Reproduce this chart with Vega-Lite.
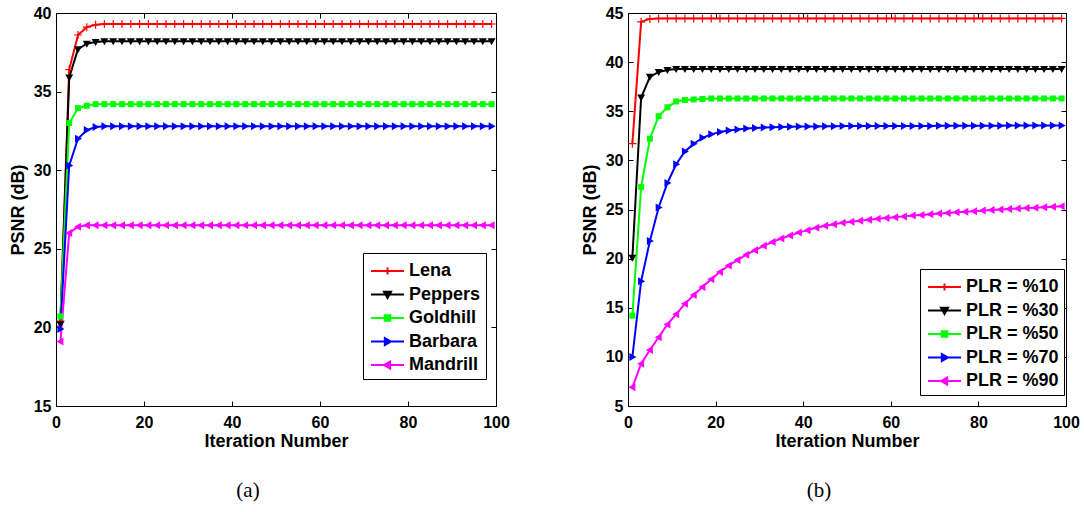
{
  "$schema": "https://vega.github.io/schema/vega-lite/v6.json",
  "background": "white",
  "padding": {"left": 8, "top": 4, "right": 5, "bottom": 0},
  "spacing": 70,
  "config": {
    "view": {"stroke": "black", "strokeWidth": 1},
    "axis": {"domainColor": "black", "tickColor": "black", "labelColor": "black", "titleColor": "black", "labelFont": "Liberation Sans", "titleFont": "Liberation Sans", "labelFontSize": 16, "labelFontWeight": "bold", "titleFontSize": 18, "titleFontWeight": "bold", "grid": false, "tickSize": -5, "labelFlush": false, "labelOverlap": false, "domainWidth": 1, "tickWidth": 1},
    "axisX": {"labelPadding": 13, "titlePadding": 2},
    "axisY": {"labelPadding": 10, "titlePadding": 6},
    "point": {"filled": true, "size": 64, "opacity": 1},
    "legend": {"orient": "none", "title": null, "strokeColor": "black", "fillColor": "white", "padding": 5, "labelFont": "Liberation Sans", "labelFontSize": 18, "labelFontWeight": "bold", "labelColor": "black", "symbolSize": 576, "symbolStrokeWidth": 2, "labelOffset": 15, "rowPadding": 1.5, "cornerRadius": 0}
  },
  "resolve": {"scale": {"x": "independent", "y": "independent", "color": "independent"}, "legend": {"color": "independent"}},
  "datasets": {
    "a": [
      {"it": 1, "Lena": 20.4, "Peppers": 20.2, "Goldhill": 20.7, "Barbara": 19.9, "Mandrill": 19.1},
      {"it": 3, "Lena": 36.4, "Peppers": 35.9, "Goldhill": 33.0, "Barbara": 30.3, "Mandrill": 26.0},
      {"it": 5, "Lena": 38.6, "Peppers": 37.7, "Goldhill": 33.95, "Barbara": 32.0, "Mandrill": 26.4},
      {"it": 7, "Lena": 39.1, "Peppers": 38.05, "Goldhill": 34.1, "Barbara": 32.55, "Mandrill": 26.5},
      {"it": 9, "Lena": 39.25, "Peppers": 38.15, "Goldhill": 34.2, "Barbara": 32.75, "Mandrill": 26.5},
      {"it": 11, "Lena": 39.3, "Peppers": 38.2, "Goldhill": 34.2, "Barbara": 32.8, "Mandrill": 26.5},
      {"it": 13, "Lena": 39.3, "Peppers": 38.2, "Goldhill": 34.2, "Barbara": 32.8, "Mandrill": 26.5},
      {"it": 15, "Lena": 39.3, "Peppers": 38.2, "Goldhill": 34.2, "Barbara": 32.8, "Mandrill": 26.5},
      {"it": 17, "Lena": 39.3, "Peppers": 38.2, "Goldhill": 34.2, "Barbara": 32.8, "Mandrill": 26.5},
      {"it": 19, "Lena": 39.3, "Peppers": 38.2, "Goldhill": 34.2, "Barbara": 32.8, "Mandrill": 26.5},
      {"it": 21, "Lena": 39.3, "Peppers": 38.2, "Goldhill": 34.2, "Barbara": 32.8, "Mandrill": 26.5},
      {"it": 23, "Lena": 39.3, "Peppers": 38.2, "Goldhill": 34.2, "Barbara": 32.8, "Mandrill": 26.5},
      {"it": 25, "Lena": 39.3, "Peppers": 38.2, "Goldhill": 34.2, "Barbara": 32.8, "Mandrill": 26.5},
      {"it": 27, "Lena": 39.3, "Peppers": 38.2, "Goldhill": 34.2, "Barbara": 32.8, "Mandrill": 26.5},
      {"it": 29, "Lena": 39.3, "Peppers": 38.2, "Goldhill": 34.2, "Barbara": 32.8, "Mandrill": 26.5},
      {"it": 31, "Lena": 39.3, "Peppers": 38.2, "Goldhill": 34.2, "Barbara": 32.8, "Mandrill": 26.5},
      {"it": 33, "Lena": 39.3, "Peppers": 38.2, "Goldhill": 34.2, "Barbara": 32.8, "Mandrill": 26.5},
      {"it": 35, "Lena": 39.3, "Peppers": 38.2, "Goldhill": 34.2, "Barbara": 32.8, "Mandrill": 26.5},
      {"it": 37, "Lena": 39.3, "Peppers": 38.2, "Goldhill": 34.2, "Barbara": 32.8, "Mandrill": 26.5},
      {"it": 39, "Lena": 39.3, "Peppers": 38.2, "Goldhill": 34.2, "Barbara": 32.8, "Mandrill": 26.5},
      {"it": 41, "Lena": 39.3, "Peppers": 38.2, "Goldhill": 34.2, "Barbara": 32.8, "Mandrill": 26.5},
      {"it": 43, "Lena": 39.3, "Peppers": 38.2, "Goldhill": 34.2, "Barbara": 32.8, "Mandrill": 26.5},
      {"it": 45, "Lena": 39.3, "Peppers": 38.2, "Goldhill": 34.2, "Barbara": 32.8, "Mandrill": 26.5},
      {"it": 47, "Lena": 39.3, "Peppers": 38.2, "Goldhill": 34.2, "Barbara": 32.8, "Mandrill": 26.5},
      {"it": 49, "Lena": 39.3, "Peppers": 38.2, "Goldhill": 34.2, "Barbara": 32.8, "Mandrill": 26.5},
      {"it": 51, "Lena": 39.3, "Peppers": 38.2, "Goldhill": 34.2, "Barbara": 32.8, "Mandrill": 26.5},
      {"it": 53, "Lena": 39.3, "Peppers": 38.2, "Goldhill": 34.2, "Barbara": 32.8, "Mandrill": 26.5},
      {"it": 55, "Lena": 39.3, "Peppers": 38.2, "Goldhill": 34.2, "Barbara": 32.8, "Mandrill": 26.5},
      {"it": 57, "Lena": 39.3, "Peppers": 38.2, "Goldhill": 34.2, "Barbara": 32.8, "Mandrill": 26.5},
      {"it": 59, "Lena": 39.3, "Peppers": 38.2, "Goldhill": 34.2, "Barbara": 32.8, "Mandrill": 26.5},
      {"it": 61, "Lena": 39.3, "Peppers": 38.2, "Goldhill": 34.2, "Barbara": 32.8, "Mandrill": 26.5},
      {"it": 63, "Lena": 39.3, "Peppers": 38.2, "Goldhill": 34.2, "Barbara": 32.8, "Mandrill": 26.5},
      {"it": 65, "Lena": 39.3, "Peppers": 38.2, "Goldhill": 34.2, "Barbara": 32.8, "Mandrill": 26.5},
      {"it": 67, "Lena": 39.3, "Peppers": 38.2, "Goldhill": 34.2, "Barbara": 32.8, "Mandrill": 26.5},
      {"it": 69, "Lena": 39.3, "Peppers": 38.2, "Goldhill": 34.2, "Barbara": 32.8, "Mandrill": 26.5},
      {"it": 71, "Lena": 39.3, "Peppers": 38.2, "Goldhill": 34.2, "Barbara": 32.8, "Mandrill": 26.5},
      {"it": 73, "Lena": 39.3, "Peppers": 38.2, "Goldhill": 34.2, "Barbara": 32.8, "Mandrill": 26.5},
      {"it": 75, "Lena": 39.3, "Peppers": 38.2, "Goldhill": 34.2, "Barbara": 32.8, "Mandrill": 26.5},
      {"it": 77, "Lena": 39.3, "Peppers": 38.2, "Goldhill": 34.2, "Barbara": 32.8, "Mandrill": 26.5},
      {"it": 79, "Lena": 39.3, "Peppers": 38.2, "Goldhill": 34.2, "Barbara": 32.8, "Mandrill": 26.5},
      {"it": 81, "Lena": 39.3, "Peppers": 38.2, "Goldhill": 34.2, "Barbara": 32.8, "Mandrill": 26.5},
      {"it": 83, "Lena": 39.3, "Peppers": 38.2, "Goldhill": 34.2, "Barbara": 32.8, "Mandrill": 26.5},
      {"it": 85, "Lena": 39.3, "Peppers": 38.2, "Goldhill": 34.2, "Barbara": 32.8, "Mandrill": 26.5},
      {"it": 87, "Lena": 39.3, "Peppers": 38.2, "Goldhill": 34.2, "Barbara": 32.8, "Mandrill": 26.5},
      {"it": 89, "Lena": 39.3, "Peppers": 38.2, "Goldhill": 34.2, "Barbara": 32.8, "Mandrill": 26.5},
      {"it": 91, "Lena": 39.3, "Peppers": 38.2, "Goldhill": 34.2, "Barbara": 32.8, "Mandrill": 26.5},
      {"it": 93, "Lena": 39.3, "Peppers": 38.2, "Goldhill": 34.2, "Barbara": 32.8, "Mandrill": 26.5},
      {"it": 95, "Lena": 39.3, "Peppers": 38.2, "Goldhill": 34.2, "Barbara": 32.8, "Mandrill": 26.5},
      {"it": 97, "Lena": 39.3, "Peppers": 38.2, "Goldhill": 34.2, "Barbara": 32.8, "Mandrill": 26.5},
      {"it": 99, "Lena": 39.3, "Peppers": 38.2, "Goldhill": 34.2, "Barbara": 32.8, "Mandrill": 26.5}
    ],
    "b": [
      {"it": 1, "PLR = %10": 31.7, "PLR = %30": 20.1, "PLR = %50": 14.2, "PLR = %70": 10.0, "PLR = %90": 6.9},
      {"it": 3, "PLR = %10": 44.1, "PLR = %30": 36.4, "PLR = %50": 27.3, "PLR = %70": 17.7, "PLR = %90": 9.3},
      {"it": 5, "PLR = %10": 44.4, "PLR = %30": 38.5, "PLR = %50": 32.2, "PLR = %70": 21.8, "PLR = %90": 10.7},
      {"it": 7, "PLR = %10": 44.45, "PLR = %30": 39.0, "PLR = %50": 34.5, "PLR = %70": 25.2, "PLR = %90": 12.0},
      {"it": 9, "PLR = %10": 44.45, "PLR = %30": 39.2, "PLR = %50": 35.4, "PLR = %70": 27.7, "PLR = %90": 13.3},
      {"it": 11, "PLR = %10": 44.45, "PLR = %30": 39.3, "PLR = %50": 36.0, "PLR = %70": 29.6, "PLR = %90": 14.35},
      {"it": 13, "PLR = %10": 44.45, "PLR = %30": 39.3, "PLR = %50": 36.15, "PLR = %70": 30.9, "PLR = %90": 15.4},
      {"it": 15, "PLR = %10": 44.45, "PLR = %30": 39.3, "PLR = %50": 36.2, "PLR = %70": 31.7, "PLR = %90": 16.3},
      {"it": 17, "PLR = %10": 44.45, "PLR = %30": 39.3, "PLR = %50": 36.25, "PLR = %70": 32.3, "PLR = %90": 17.1},
      {"it": 19, "PLR = %10": 44.45, "PLR = %30": 39.3, "PLR = %50": 36.3, "PLR = %70": 32.65, "PLR = %90": 17.9},
      {"it": 21, "PLR = %10": 44.45, "PLR = %30": 39.3, "PLR = %50": 36.3, "PLR = %70": 32.9, "PLR = %90": 18.65},
      {"it": 23, "PLR = %10": 44.45, "PLR = %30": 39.3, "PLR = %50": 36.3, "PLR = %70": 33.05, "PLR = %90": 19.3},
      {"it": 25, "PLR = %10": 44.45, "PLR = %30": 39.3, "PLR = %50": 36.3, "PLR = %70": 33.15, "PLR = %90": 19.85},
      {"it": 27, "PLR = %10": 44.45, "PLR = %30": 39.3, "PLR = %50": 36.3, "PLR = %70": 33.25, "PLR = %90": 20.4},
      {"it": 29, "PLR = %10": 44.45, "PLR = %30": 39.3, "PLR = %50": 36.3, "PLR = %70": 33.3, "PLR = %90": 20.85},
      {"it": 31, "PLR = %10": 44.45, "PLR = %30": 39.3, "PLR = %50": 36.3, "PLR = %70": 33.35, "PLR = %90": 21.3},
      {"it": 33, "PLR = %10": 44.45, "PLR = %30": 39.3, "PLR = %50": 36.3, "PLR = %70": 33.38, "PLR = %90": 21.7},
      {"it": 35, "PLR = %10": 44.45, "PLR = %30": 39.3, "PLR = %50": 36.3, "PLR = %70": 33.4, "PLR = %90": 22.05},
      {"it": 37, "PLR = %10": 44.45, "PLR = %30": 39.3, "PLR = %50": 36.3, "PLR = %70": 33.42, "PLR = %90": 22.35},
      {"it": 39, "PLR = %10": 44.45, "PLR = %30": 39.3, "PLR = %50": 36.3, "PLR = %70": 33.44, "PLR = %90": 22.65},
      {"it": 41, "PLR = %10": 44.45, "PLR = %30": 39.3, "PLR = %50": 36.3, "PLR = %70": 33.45, "PLR = %90": 22.9},
      {"it": 43, "PLR = %10": 44.45, "PLR = %30": 39.3, "PLR = %50": 36.3, "PLR = %70": 33.46, "PLR = %90": 23.15},
      {"it": 45, "PLR = %10": 44.45, "PLR = %30": 39.3, "PLR = %50": 36.3, "PLR = %70": 33.47, "PLR = %90": 23.35},
      {"it": 47, "PLR = %10": 44.45, "PLR = %30": 39.3, "PLR = %50": 36.3, "PLR = %70": 33.48, "PLR = %90": 23.5},
      {"it": 49, "PLR = %10": 44.45, "PLR = %30": 39.3, "PLR = %50": 36.3, "PLR = %70": 33.49, "PLR = %90": 23.65},
      {"it": 51, "PLR = %10": 44.45, "PLR = %30": 39.3, "PLR = %50": 36.3, "PLR = %70": 33.5, "PLR = %90": 23.75},
      {"it": 53, "PLR = %10": 44.45, "PLR = %30": 39.3, "PLR = %50": 36.3, "PLR = %70": 33.5, "PLR = %90": 23.85},
      {"it": 55, "PLR = %10": 44.45, "PLR = %30": 39.3, "PLR = %50": 36.3, "PLR = %70": 33.5, "PLR = %90": 23.95},
      {"it": 57, "PLR = %10": 44.45, "PLR = %30": 39.3, "PLR = %50": 36.3, "PLR = %70": 33.5, "PLR = %90": 24.05},
      {"it": 59, "PLR = %10": 44.45, "PLR = %30": 39.3, "PLR = %50": 36.3, "PLR = %70": 33.5, "PLR = %90": 24.14},
      {"it": 61, "PLR = %10": 44.45, "PLR = %30": 39.3, "PLR = %50": 36.3, "PLR = %70": 33.5, "PLR = %90": 24.22},
      {"it": 63, "PLR = %10": 44.45, "PLR = %30": 39.3, "PLR = %50": 36.3, "PLR = %70": 33.5, "PLR = %90": 24.3},
      {"it": 65, "PLR = %10": 44.45, "PLR = %30": 39.3, "PLR = %50": 36.3, "PLR = %70": 33.5, "PLR = %90": 24.38},
      {"it": 67, "PLR = %10": 44.45, "PLR = %30": 39.3, "PLR = %50": 36.3, "PLR = %70": 33.5, "PLR = %90": 24.45},
      {"it": 69, "PLR = %10": 44.45, "PLR = %30": 39.3, "PLR = %50": 36.3, "PLR = %70": 33.5, "PLR = %90": 24.52},
      {"it": 71, "PLR = %10": 44.45, "PLR = %30": 39.3, "PLR = %50": 36.3, "PLR = %70": 33.52, "PLR = %90": 24.59},
      {"it": 73, "PLR = %10": 44.45, "PLR = %30": 39.3, "PLR = %50": 36.3, "PLR = %70": 33.52, "PLR = %90": 24.65},
      {"it": 75, "PLR = %10": 44.45, "PLR = %30": 39.3, "PLR = %50": 36.3, "PLR = %70": 33.52, "PLR = %90": 24.71},
      {"it": 77, "PLR = %10": 44.45, "PLR = %30": 39.3, "PLR = %50": 36.3, "PLR = %70": 33.52, "PLR = %90": 24.77},
      {"it": 79, "PLR = %10": 44.45, "PLR = %30": 39.3, "PLR = %50": 36.3, "PLR = %70": 33.52, "PLR = %90": 24.83},
      {"it": 81, "PLR = %10": 44.45, "PLR = %30": 39.3, "PLR = %50": 36.3, "PLR = %70": 33.52, "PLR = %90": 24.89},
      {"it": 83, "PLR = %10": 44.45, "PLR = %30": 39.3, "PLR = %50": 36.3, "PLR = %70": 33.52, "PLR = %90": 24.94},
      {"it": 85, "PLR = %10": 44.45, "PLR = %30": 39.3, "PLR = %50": 36.3, "PLR = %70": 33.52, "PLR = %90": 24.99},
      {"it": 87, "PLR = %10": 44.45, "PLR = %30": 39.3, "PLR = %50": 36.3, "PLR = %70": 33.55, "PLR = %90": 25.04},
      {"it": 89, "PLR = %10": 44.45, "PLR = %30": 39.3, "PLR = %50": 36.3, "PLR = %70": 33.55, "PLR = %90": 25.09},
      {"it": 91, "PLR = %10": 44.45, "PLR = %30": 39.3, "PLR = %50": 36.3, "PLR = %70": 33.55, "PLR = %90": 25.14},
      {"it": 93, "PLR = %10": 44.45, "PLR = %30": 39.3, "PLR = %50": 36.3, "PLR = %70": 33.55, "PLR = %90": 25.19},
      {"it": 95, "PLR = %10": 44.45, "PLR = %30": 39.3, "PLR = %50": 36.3, "PLR = %70": 33.55, "PLR = %90": 25.24},
      {"it": 97, "PLR = %10": 44.45, "PLR = %30": 39.3, "PLR = %50": 36.3, "PLR = %70": 33.55, "PLR = %90": 25.29},
      {"it": 99, "PLR = %10": 44.45, "PLR = %30": 39.3, "PLR = %50": 36.3, "PLR = %70": 33.55, "PLR = %90": 25.34}
    ]
  },
  "hconcat": [
    {
      "width": 440,
      "height": 393,
      "title": {"text": "(a)", "orient": "bottom", "frame": "group", "anchor": "middle", "dx": -28, "offset": 30, "font": "Liberation Serif", "fontSize": 21, "fontWeight": "normal", "color": "black"},
      "data": {"name": "a"},
      "transform": [{"fold": ["Lena", "Peppers", "Goldhill", "Barbara", "Mandrill"], "as": ["series", "psnr"]}],
      "encoding": {
        "x": {"field": "it", "type": "quantitative", "scale": {"domain": [0, 100], "nice": false}},
        "y": {"field": "psnr", "type": "quantitative", "scale": {"domain": [15, 40], "nice": false, "zero": false}}
      },
      "layer": [
        {
          "mark": {"type": "line", "strokeWidth": 2},
          "encoding": {
            "x": {"field": "it", "type": "quantitative", "axis": {"values": [0, 20, 40, 60, 80, 100], "title": "Iteration Number"}},
            "y": {"field": "psnr", "type": "quantitative", "axis": {"values": [15, 20, 25, 30, 35, 40], "title": "PSNR (dB)"}},
            "color": {
              "field": "series", "type": "nominal",
              "scale": {"domain": ["Lena", "Peppers", "Goldhill", "Barbara", "Mandrill"], "range": ["#ff0000", "#000000", "#00ff00", "#0000ff", "#ff00ff"]},
              "legend": {
                "legendX": 307, "legendY": 240,
                "labelExpr": "datum.label + '\u00a0\u00a0\u00a0\u00a0'",
                "encode": {
                  "symbols": {
                    "update": {
                      "shape": {"signal": "['M-0.833,0L1.917,0M0.542,-0.29L0.542,0.29','M-0.833,0L1.917,0M0.25,-0.22L0.833,-0.22L0.542,0.29Z','M-0.833,0L1.917,0M0.31,-0.23L0.77,-0.23L0.77,0.23L0.31,0.23Z','M-0.833,0L1.917,0M0.32,-0.29L0.83,0L0.32,0.29Z','M-0.833,0L1.917,0M0.76,-0.29L0.25,0L0.76,0.29Z'][indexof(['Lena','Peppers','Goldhill','Barbara','Mandrill'], datum.value)]"},
                      "fill": {"signal": "['#ff0000','#000000','#00ff00','#0000ff','#ff00ff'][indexof(['Lena','Peppers','Goldhill','Barbara','Mandrill'], datum.value)]"},
                      "stroke": {"signal": "['#ff0000','#000000','#00ff00','#0000ff','#ff00ff'][indexof(['Lena','Peppers','Goldhill','Barbara','Mandrill'], datum.value)]"},
                      "strokeWidth": {"value": 2}
                    }
                  }
                }
              }
            }
          }
        },
        {
          "transform": [{"filter": "datum.series === 'Lena'"}],
          "mark": {"type": "point", "shape": "M-1,-0.15L1,-0.15L1,0.15L-1,0.15ZM-0.15,-1L0.15,-1L0.15,1L-0.15,1Z", "color": "#ff0000"},
          "encoding": {
            "x": {"field": "it", "type": "quantitative", "axis": {"orient": "top", "values": [0, 20, 40, 60, 80, 100], "labels": false, "title": null}},
            "y": {"field": "psnr", "type": "quantitative", "axis": {"orient": "right", "values": [15, 20, 25, 30, 35, 40], "labels": false, "title": null}}
          }
        },
        {
          "transform": [{"filter": "datum.series === 'Peppers'"}],
          "mark": {"type": "point", "shape": "M-1,-0.75L1,-0.75L0,1Z", "color": "#000000"},
          "encoding": {
            "x": {"field": "it", "type": "quantitative", "axis": null},
            "y": {"field": "psnr", "type": "quantitative", "axis": null}
          }
        },
        {
          "transform": [{"filter": "datum.series === 'Goldhill'"}],
          "mark": {"type": "point", "shape": "M-0.75,-0.75L0.75,-0.75L0.75,0.75L-0.75,0.75Z", "color": "#00ff00"},
          "encoding": {
            "x": {"field": "it", "type": "quantitative", "axis": null},
            "y": {"field": "psnr", "type": "quantitative", "axis": null}
          }
        },
        {
          "transform": [{"filter": "datum.series === 'Barbara'"}],
          "mark": {"type": "point", "shape": "M-0.75,-1L1,0L-0.75,1Z", "color": "#0000ff"},
          "encoding": {
            "x": {"field": "it", "type": "quantitative", "axis": null},
            "y": {"field": "psnr", "type": "quantitative", "axis": null}
          }
        },
        {
          "transform": [{"filter": "datum.series === 'Mandrill'"}],
          "mark": {"type": "point", "shape": "M0.75,-1L-1,0L0.75,1Z", "color": "#ff00ff"},
          "encoding": {
            "x": {"field": "it", "type": "quantitative", "axis": null},
            "y": {"field": "psnr", "type": "quantitative", "axis": null}
          }
        }
      ],
      "resolve": {"axis": {"x": "independent", "y": "independent"}}
    },
    {
      "width": 438,
      "height": 393,
      "title": {"text": "(b)", "orient": "bottom", "frame": "group", "anchor": "middle", "dx": -28, "offset": 30, "font": "Liberation Serif", "fontSize": 21, "fontWeight": "normal", "color": "black"},
      "data": {"name": "b"},
      "transform": [{"fold": ["PLR = %10", "PLR = %30", "PLR = %50", "PLR = %70", "PLR = %90"], "as": ["series", "psnr"]}],
      "encoding": {
        "x": {"field": "it", "type": "quantitative", "scale": {"domain": [0, 100], "nice": false}},
        "y": {"field": "psnr", "type": "quantitative", "scale": {"domain": [5, 45], "nice": false, "zero": false}}
      },
      "layer": [
        {
          "mark": {"type": "line", "strokeWidth": 2},
          "encoding": {
            "x": {"field": "it", "type": "quantitative", "axis": {"values": [0, 20, 40, 60, 80, 100], "title": "Iteration Number"}},
            "y": {"field": "psnr", "type": "quantitative", "axis": {"values": [5, 10, 15, 20, 25, 30, 35, 40, 45], "title": "PSNR (dB)"}},
            "color": {
              "field": "series", "type": "nominal",
              "scale": {"domain": ["PLR = %10", "PLR = %30", "PLR = %50", "PLR = %70", "PLR = %90"], "range": ["#ff0000", "#000000", "#00ff00", "#0000ff", "#ff00ff"]},
              "legend": {
                "legendX": 292, "legendY": 256,
                "encode": {
                  "symbols": {
                    "update": {
                      "shape": {"signal": "['M-0.833,0L1.917,0M0.542,-0.29L0.542,0.29','M-0.833,0L1.917,0M0.25,-0.22L0.833,-0.22L0.542,0.29Z','M-0.833,0L1.917,0M0.31,-0.23L0.77,-0.23L0.77,0.23L0.31,0.23Z','M-0.833,0L1.917,0M0.32,-0.29L0.83,0L0.32,0.29Z','M-0.833,0L1.917,0M0.76,-0.29L0.25,0L0.76,0.29Z'][indexof(['PLR = %10','PLR = %30','PLR = %50','PLR = %70','PLR = %90'], datum.value)]"},
                      "fill": {"signal": "['#ff0000','#000000','#00ff00','#0000ff','#ff00ff'][indexof(['PLR = %10','PLR = %30','PLR = %50','PLR = %70','PLR = %90'], datum.value)]"},
                      "stroke": {"signal": "['#ff0000','#000000','#00ff00','#0000ff','#ff00ff'][indexof(['PLR = %10','PLR = %30','PLR = %50','PLR = %70','PLR = %90'], datum.value)]"},
                      "strokeWidth": {"value": 2}
                    }
                  }
                }
              }
            }
          }
        },
        {
          "transform": [{"filter": "datum.series === 'PLR = %10'"}],
          "mark": {"type": "point", "shape": "M-1,-0.15L1,-0.15L1,0.15L-1,0.15ZM-0.15,-1L0.15,-1L0.15,1L-0.15,1Z", "color": "#ff0000"},
          "encoding": {
            "x": {"field": "it", "type": "quantitative", "axis": {"orient": "top", "values": [0, 20, 40, 60, 80, 100], "labels": false, "title": null}},
            "y": {"field": "psnr", "type": "quantitative", "axis": {"orient": "right", "values": [5, 10, 15, 20, 25, 30, 35, 40, 45], "labels": false, "title": null}}
          }
        },
        {
          "transform": [{"filter": "datum.series === 'PLR = %30'"}],
          "mark": {"type": "point", "shape": "M-1,-0.75L1,-0.75L0,1Z", "color": "#000000"},
          "encoding": {
            "x": {"field": "it", "type": "quantitative", "axis": null},
            "y": {"field": "psnr", "type": "quantitative", "axis": null}
          }
        },
        {
          "transform": [{"filter": "datum.series === 'PLR = %50'"}],
          "mark": {"type": "point", "shape": "M-0.75,-0.75L0.75,-0.75L0.75,0.75L-0.75,0.75Z", "color": "#00ff00"},
          "encoding": {
            "x": {"field": "it", "type": "quantitative", "axis": null},
            "y": {"field": "psnr", "type": "quantitative", "axis": null}
          }
        },
        {
          "transform": [{"filter": "datum.series === 'PLR = %70'"}],
          "mark": {"type": "point", "shape": "M-0.75,-1L1,0L-0.75,1Z", "color": "#0000ff"},
          "encoding": {
            "x": {"field": "it", "type": "quantitative", "axis": null},
            "y": {"field": "psnr", "type": "quantitative", "axis": null}
          }
        },
        {
          "transform": [{"filter": "datum.series === 'PLR = %90'"}],
          "mark": {"type": "point", "shape": "M0.75,-1L-1,0L0.75,1Z", "color": "#ff00ff"},
          "encoding": {
            "x": {"field": "it", "type": "quantitative", "axis": null},
            "y": {"field": "psnr", "type": "quantitative", "axis": null}
          }
        }
      ],
      "resolve": {"axis": {"x": "independent", "y": "independent"}}
    }
  ]
}
